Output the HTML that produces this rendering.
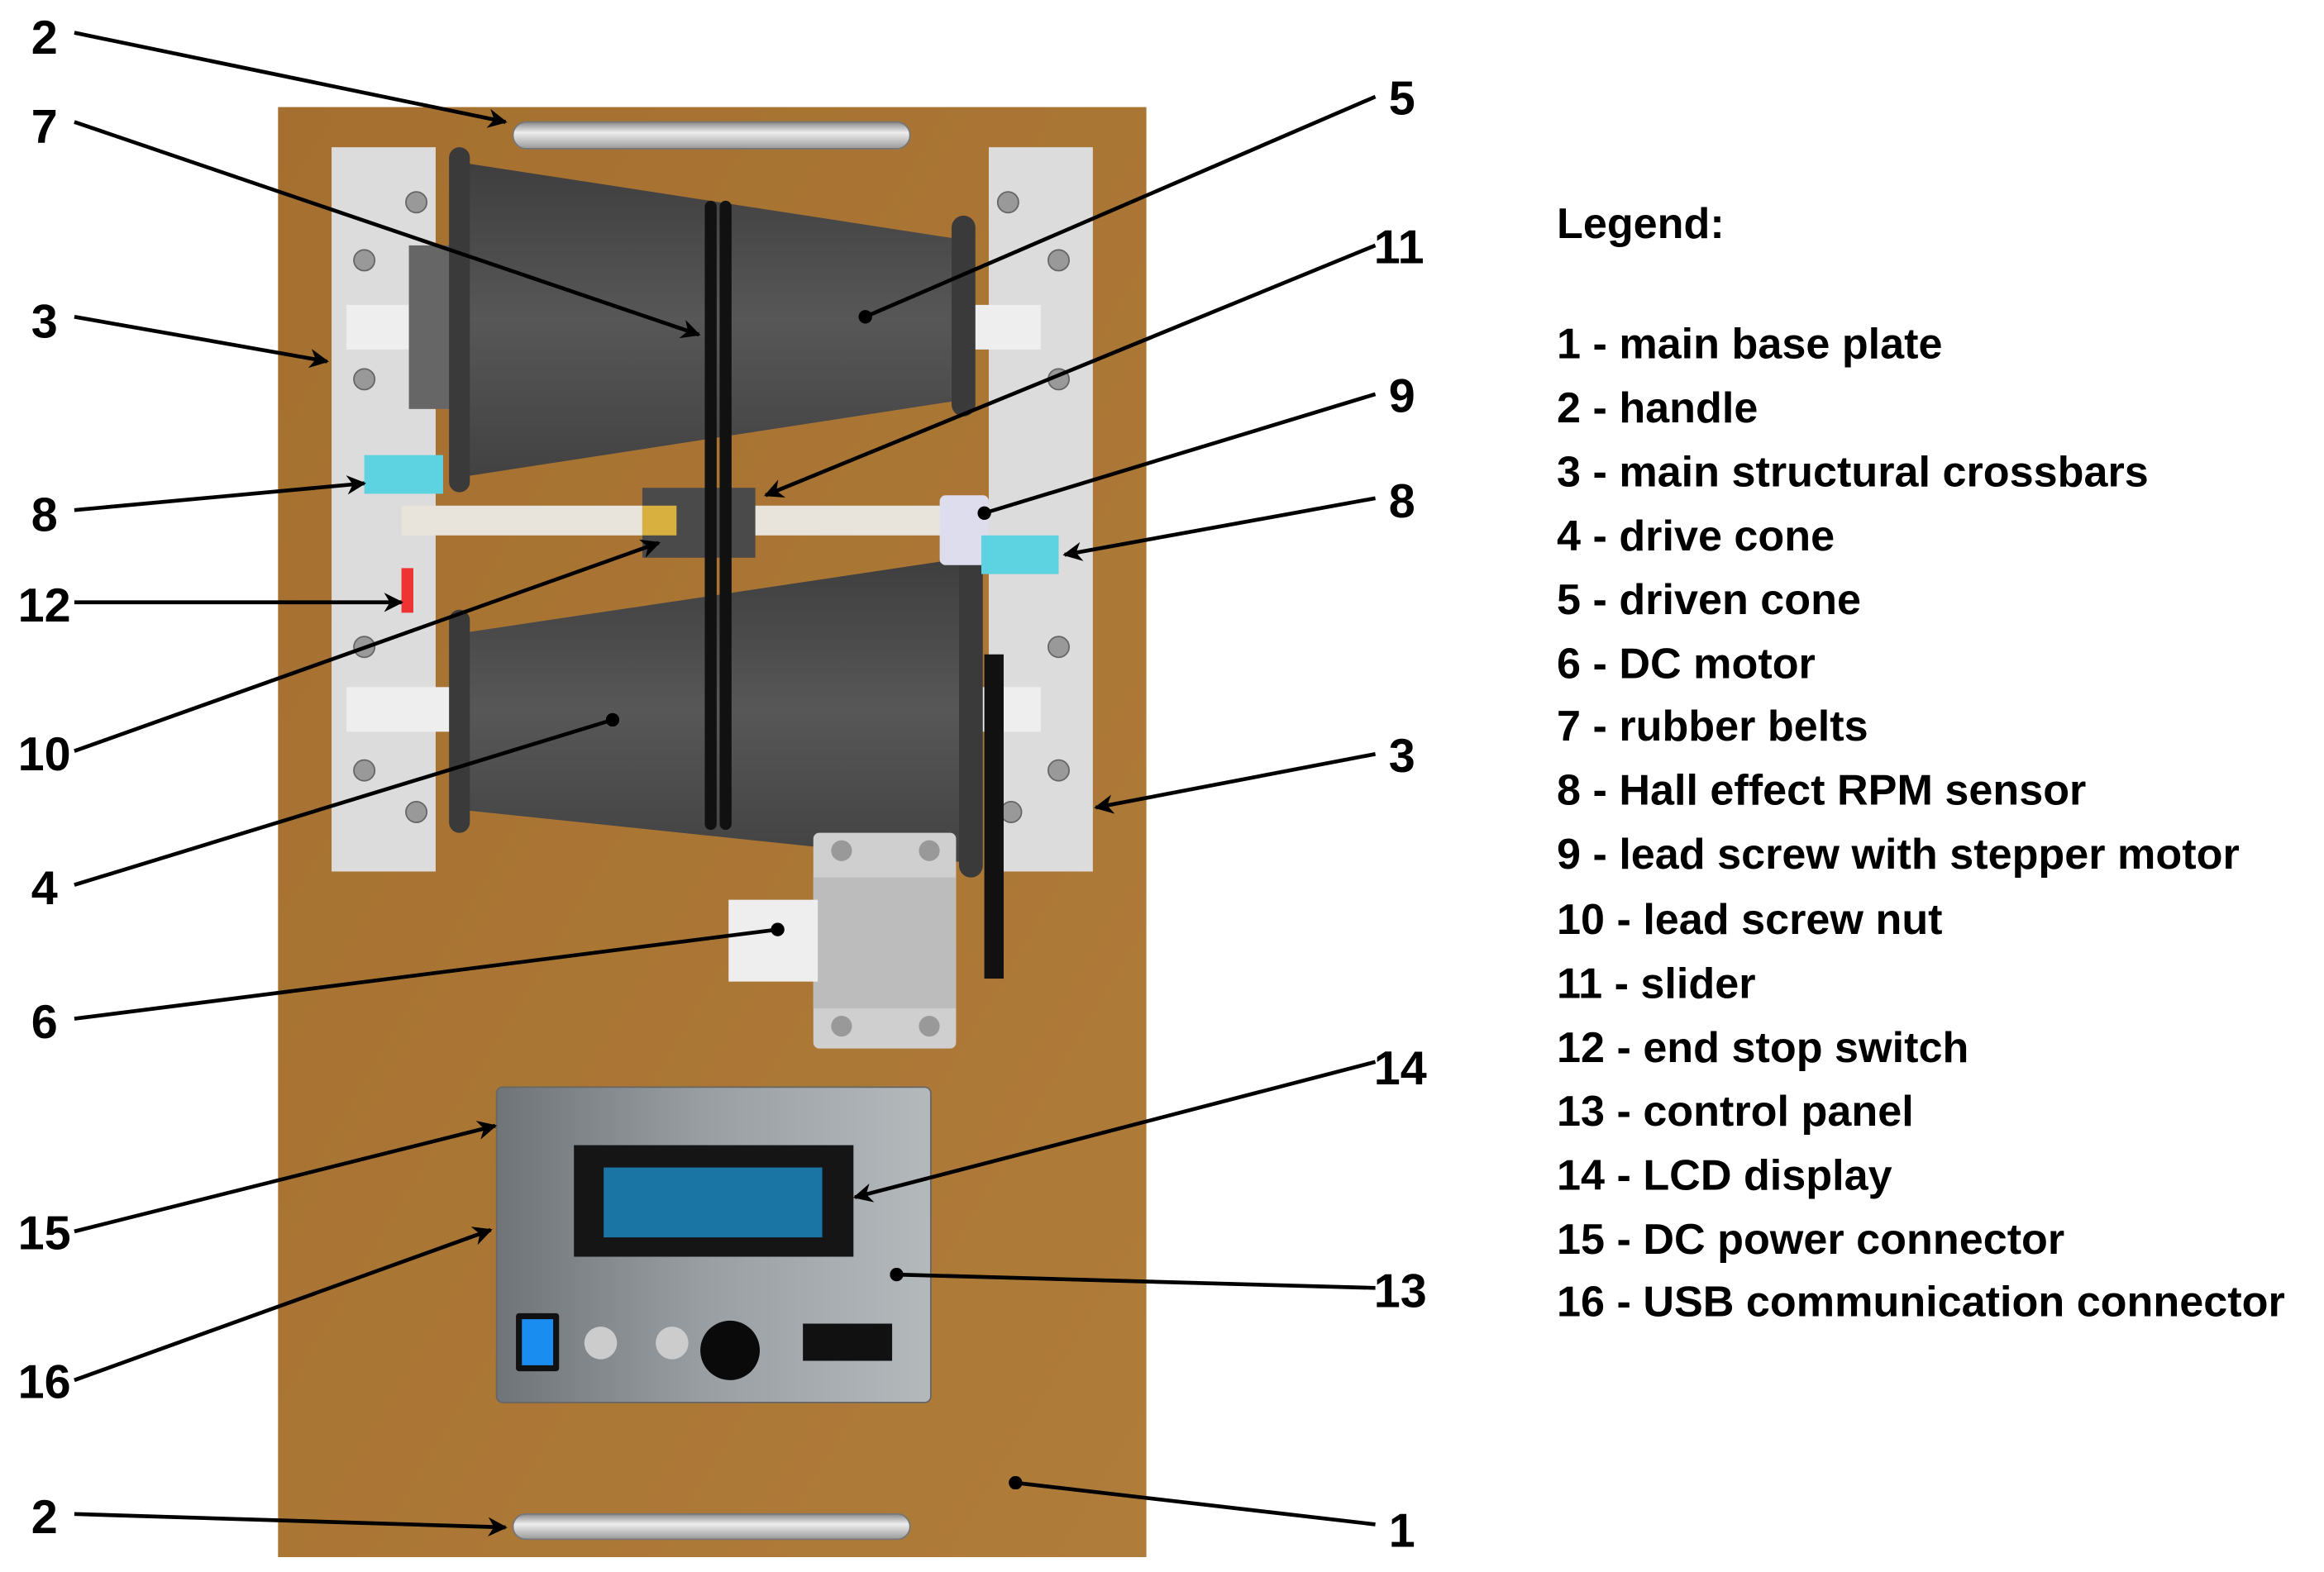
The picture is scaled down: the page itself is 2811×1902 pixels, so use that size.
<!DOCTYPE html>
<html><head><meta charset="utf-8"><style>
html,body{margin:0;padding:0;background:#fff;width:2811px;height:1902px;overflow:hidden}
svg{display:block}
text{font-family:"Liberation Sans",Arial,sans-serif;font-weight:bold;fill:#000}
</style></head><body>
<svg width="2811" height="1902" viewBox="0 0 1563 1057" preserveAspectRatio="none" xmlns="http://www.w3.org/2000/svg">
<defs>
<linearGradient id="board" x1="0" y1="0" x2="1" y2="1"><stop offset="0" stop-color="#a5702f"/><stop offset="1" stop-color="#b07c3a"/></linearGradient>
<linearGradient id="panel" x1="0" y1="0" x2="1" y2="0"><stop offset="0" stop-color="#6f7478"/><stop offset="0.5" stop-color="#9aa0a4"/><stop offset="1" stop-color="#b4b9bc"/></linearGradient>
<linearGradient id="cone" x1="0" y1="0" x2="0" y2="1"><stop offset="0" stop-color="#3e3e3e"/><stop offset="0.5" stop-color="#575757"/><stop offset="1" stop-color="#424242"/></linearGradient>
<linearGradient id="handle" x1="0" y1="0" x2="0" y2="1"><stop offset="0" stop-color="#888"/><stop offset="0.4" stop-color="#eee"/><stop offset="1" stop-color="#999"/></linearGradient>
<marker id="ar" viewBox="0 0 10 10" refX="9" refY="5" markerWidth="5" markerHeight="5" orient="auto"><path d="M0,0 L10,5 L0,10 L3,5 z" fill="#000"/></marker>
<marker id="dt" viewBox="0 0 10 10" refX="5" refY="5" markerWidth="3.5" markerHeight="3.5"><circle cx="5" cy="5" r="5" fill="#000"/></marker>
</defs>
<rect x="187" y="72" width="584" height="975" fill="url(#board)"/>
<rect x="345" y="82" width="267" height="18" rx="9" fill="url(#handle)" stroke="#777"/>
<rect x="345" y="1018" width="267" height="17" rx="8.5" fill="url(#handle)" stroke="#777"/>
<rect x="223" y="99" width="70" height="487" fill="#dcdcdc"/>
<rect x="665" y="99" width="70" height="487" fill="#dcdcdc"/>
<g fill="#999" stroke="#666"><circle cx="280" cy="136" r="7"/><circle cx="678" cy="136" r="7"/><circle cx="245" cy="175" r="7"/><circle cx="245" cy="255" r="7"/><circle cx="712" cy="175" r="7"/><circle cx="712" cy="255" r="7"/><circle cx="245" cy="435" r="7"/><circle cx="245" cy="518" r="7"/><circle cx="712" cy="435" r="7"/><circle cx="712" cy="518" r="7"/><circle cx="280" cy="546" r="7"/><circle cx="680" cy="546" r="7"/></g>
<rect x="233" y="205" width="70" height="30" fill="#eee"/><rect x="655" y="205" width="45" height="30" fill="#eee"/>
<rect x="233" y="462" width="70" height="30" fill="#eee"/><rect x="655" y="462" width="45" height="30" fill="#eee"/>
<rect x="275" y="165" width="30" height="110" fill="#666"/>
<polygon points="315,110 640,160 640,270 315,320" fill="url(#cone)"/>
<rect x="302" y="99" width="14" height="232" rx="7" fill="#3a3a3a"/>
<rect x="640" y="145" width="16" height="135" rx="8" fill="#3a3a3a"/>
<polygon points="315,425 650,375 650,580 315,545" fill="url(#cone)"/>
<rect x="302" y="410" width="14" height="150" rx="7" fill="#3a3a3a"/>
<rect x="645" y="362" width="16" height="228" rx="8" fill="#3a3a3a"/>
<rect x="662" y="440" width="13" height="218" fill="#111"/>
<rect x="270" y="340" width="370" height="20" fill="#e8e4dc"/>
<rect x="632" y="333" width="33" height="47" fill="#dde" rx="4"/>
<rect x="432" y="328" width="76" height="47" fill="#4a4a4a"/>
<rect x="432" y="340" width="23" height="20" fill="#d8b040"/>
<rect x="474" y="135" width="8" height="423" rx="4" fill="#111"/>
<rect x="484" y="135" width="8" height="423" rx="4" fill="#111"/>
<rect x="270" y="382" width="8" height="30" fill="#e33"/>
<rect x="245" y="306" width="53" height="26" fill="#5dd2e0"/>
<rect x="660" y="360" width="52" height="26" fill="#5dd2e0"/>
<rect x="547" y="560" width="96" height="145" rx="4" fill="#cfcfcf"/>
<rect x="547" y="590" width="96" height="88" fill="#bcbcbc"/>
<rect x="490" y="605" width="60" height="55" fill="#eee"/>
<g fill="#999"><circle cx="566" cy="572" r="7"/><circle cx="625" cy="572" r="7"/><circle cx="566" cy="690" r="7"/><circle cx="625" cy="690" r="7"/></g>
<rect x="334" y="731" width="292" height="212" rx="4" fill="url(#panel)" stroke="#666"/>
<rect x="386" y="770" width="188" height="75" fill="#151515"/>
<rect x="406" y="785" width="147" height="47" fill="#1a75a5"/>
<rect x="347" y="883" width="29" height="39" rx="2" fill="#111"/>
<rect x="351" y="887" width="21" height="31" fill="#1a8ef0"/>
<circle cx="404" cy="903" r="11" fill="#ccc"/><circle cx="452" cy="903" r="11" fill="#ccc"/>
<circle cx="491" cy="908" r="20" fill="#0a0a0a"/>
<rect x="540" y="890" width="60" height="25" fill="#111"/>
<g stroke="#000" stroke-width="2.6" fill="none">
<line x1="50" y1="22" x2="340" y2="82" marker-end="url(#ar)"/>
<line x1="50" y1="82" x2="470" y2="225" marker-end="url(#ar)"/>
<line x1="50" y1="213" x2="220" y2="243" marker-end="url(#ar)"/>
<line x1="50" y1="343" x2="245" y2="325" marker-end="url(#ar)"/>
<line x1="50" y1="405" x2="270" y2="405" marker-end="url(#ar)"/>
<line x1="50" y1="505" x2="443" y2="365" marker-end="url(#ar)"/>
<line x1="50" y1="595" x2="412" y2="484" marker-end="url(#dt)"/>
<line x1="50" y1="685" x2="523" y2="625" marker-end="url(#dt)"/>
<line x1="50" y1="828" x2="333" y2="757" marker-end="url(#ar)"/>
<line x1="50" y1="928" x2="330" y2="827" marker-end="url(#ar)"/>
<line x1="50" y1="1018" x2="340" y2="1027" marker-end="url(#ar)"/>
<line x1="925" y1="65" x2="582" y2="213" marker-end="url(#dt)"/>
<line x1="925" y1="165" x2="515" y2="333" marker-end="url(#ar)"/>
<line x1="925" y1="265" x2="662" y2="345" marker-end="url(#dt)"/>
<line x1="925" y1="335" x2="716" y2="373" marker-end="url(#ar)"/>
<line x1="925" y1="507" x2="737" y2="543" marker-end="url(#ar)"/>
<line x1="925" y1="714" x2="575" y2="805" marker-end="url(#ar)"/>
<line x1="925" y1="866" x2="603" y2="857" marker-end="url(#dt)"/>
<line x1="925" y1="1025" x2="683" y2="997" marker-end="url(#dt)"/>
</g>
<g font-size="32">
<text x="21" y="36">2</text><text x="21" y="96">7</text><text x="21" y="227">3</text><text x="21" y="357">8</text>
<text x="12" y="418">12</text><text x="12" y="518">10</text><text x="21" y="608">4</text><text x="21" y="698">6</text>
<text x="12" y="840">15</text><text x="12" y="940">16</text><text x="21" y="1031">2</text>
<text x="934" y="77">5</text><text x="924" y="177">11</text><text x="934" y="277">9</text><text x="934" y="348">8</text>
<text x="934" y="519">3</text><text x="924" y="729">14</text><text x="924" y="879">13</text><text x="934" y="1040">1</text>
</g>
<g font-size="29">
<text x="1047" y="160">Legend:</text>
<text x="1047" y="241">1 - main base plate</text>
<text x="1047" y="284">2 - handle</text>
<text x="1047" y="327">3 - main structural crossbars</text>
<text x="1047" y="370">4 - drive cone</text>
<text x="1047" y="413">5 - driven cone</text>
<text x="1047" y="456">6 - DC motor</text>
<text x="1047" y="498">7 - rubber belts</text>
<text x="1047" y="541">8 - Hall effect RPM sensor</text>
<text x="1047" y="584">9 - lead screw with stepper motor</text>
<text x="1047" y="628">10 - lead screw nut</text>
<text x="1047" y="671">11 - slider</text>
<text x="1047" y="714">12 - end stop switch</text>
<text x="1047" y="757">13 - control panel</text>
<text x="1047" y="800">14 - LCD display</text>
<text x="1047" y="843">15 - DC power connector</text>
<text x="1047" y="885">16 - USB communication connector</text>
</g>
</svg>
</body></html>
